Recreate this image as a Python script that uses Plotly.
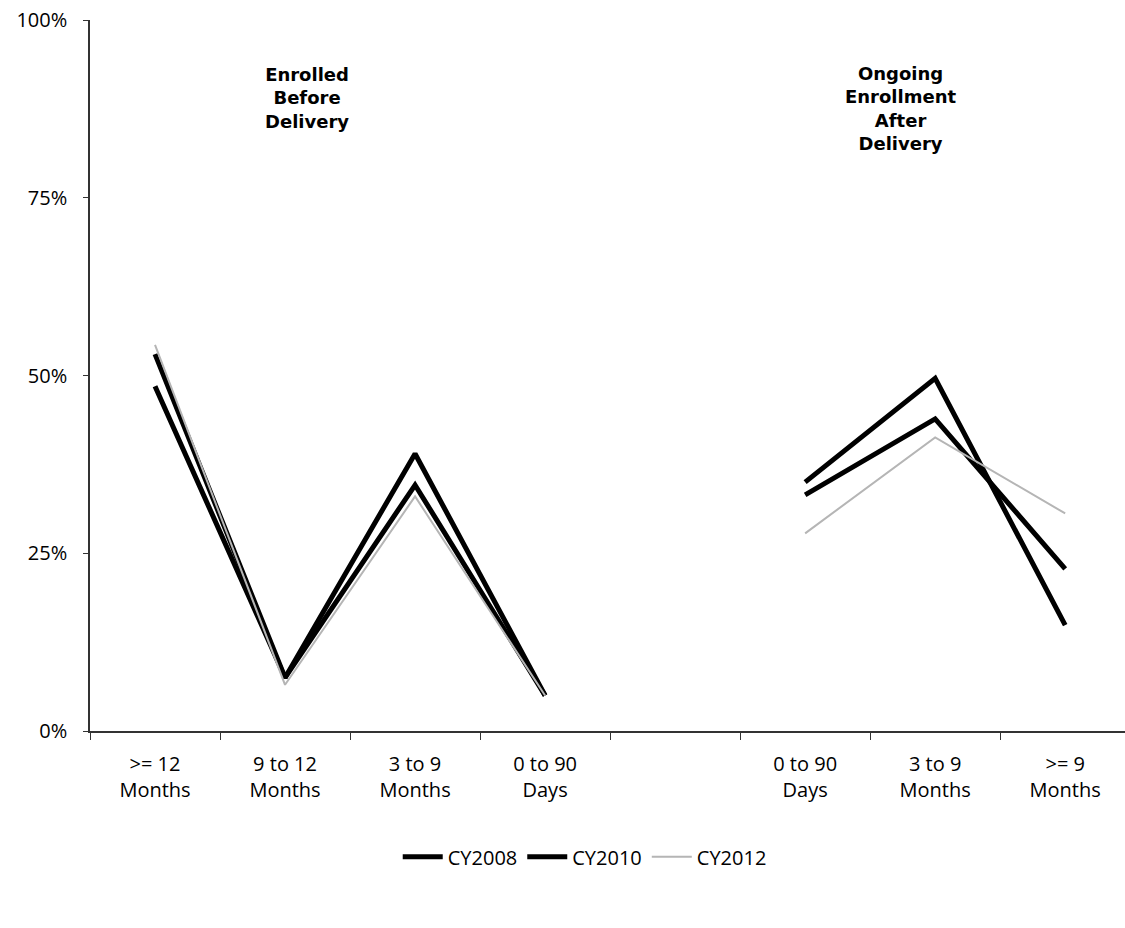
import plotly.graph_objects as go

categories = [">= 12<br>Months", "9 to 12<br>Months", "3 to 9<br>Months", "0 to 90<br>Days", "",
              "0 to 90<br>Days", "3 to 9<br>Months", ">= 9<br>Months"]
cy2008 = [0.53, 0.075, 0.39, 0.05, None, 0.35, 0.496, 0.149]
cy2010 = [0.485, 0.075, 0.346, 0.05, None, 0.332, 0.439, 0.228]
cy2012 = [0.543, 0.065, 0.33, 0.05, None, 0.278, 0.413, 0.306]
series = [("CY2008", cy2008, "#000000", 5), ("CY2010", cy2010, "#000000", 5), ("CY2012", cy2012, "#b5b5b5", 2)]
y_ticks = [0, 0.25, 0.5, 0.75, 1.0]

x = list(range(len(categories)))
fig = go.Figure()
for name, vals, color, w in series:
    fig.add_trace(go.Scatter(x=x, y=vals, mode="lines", name=name,
                             line=dict(color=color, width=w), connectgaps=False))

font_main = "Open Sans, Liberation Sans, sans-serif"
fig.update_layout(
    width=1125, height=928,
    margin=dict(l=90, r=0, t=20, b=197),
    paper_bgcolor="white", plot_bgcolor="white",
    font=dict(family=font_main, size=20, color="black"),
    showlegend=True,
    legend=dict(orientation="h", x=0.478, xanchor="center", y=-0.177, yanchor="middle",
                font=dict(size=20), itemwidth=40, tracegroupgap=0),
    xaxis=dict(range=[-0.5, 7.46], tickmode="array", tickvals=x, ticktext=categories,
               ticks="", showgrid=False, zeroline=False, showline=True, linecolor="#333", linewidth=1.5,
               ticklabelstandoff=14,
               minor=dict(tickmode="array", tickvals=[i - 0.5 for i in range(len(categories) + 1)],
                          ticks="outside", ticklen=7, tickcolor="#333", showgrid=False)),
    yaxis=dict(range=[0, 1], tickvals=y_ticks, tickformat=".0%", ticks="outside", ticklen=5,
               tickcolor="#333", showgrid=False, zeroline=False, showline=True, linecolor="#333",
               linewidth=1.5, ticklabelstandoff=12),
)
fig.add_annotation(x=1.17, y=0.89, xref="x", yref="y", showarrow=False,
                   text="Enrolled<br>Before<br>Delivery",
                   font=dict(family="DejaVu Sans", size=18, color="black", weight="bold"), align="center")
fig.add_annotation(x=5.73, y=0.876, xref="x", yref="y", showarrow=False,
                   text="Ongoing<br>Enrollment<br>After<br>Delivery",
                   font=dict(family="DejaVu Sans", size=18, color="black", weight="bold"), align="center")
fig.write_html("out.html")
